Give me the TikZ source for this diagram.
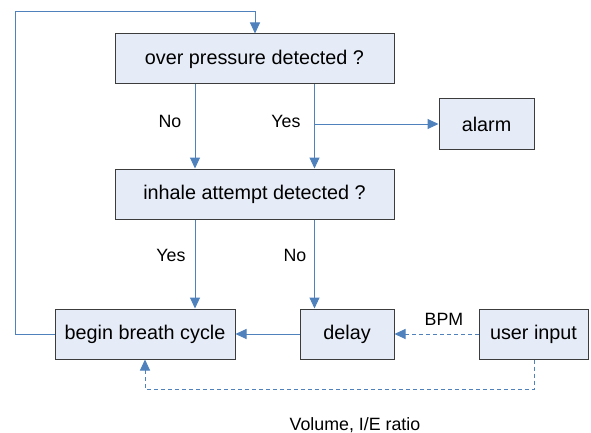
\documentclass[tikz,border=0pt]{standalone}
\usepackage{fontspec}
\setmainfont{Liberation Sans}
\usetikzlibrary{arrows.meta}
\definecolor{boxfill}{HTML}{E6ECF7}
\definecolor{boxline}{HTML}{3C3C3C}
\definecolor{flow}{HTML}{4F81BD}
\begin{document}
\begin{tikzpicture}[x=1pt,y=-1pt,
  box/.style={draw=boxline,fill=boxfill,line width=1pt,inner sep=0pt,font=\fontsize{19.8}{21}\selectfont},
  conn/.style={draw=flow,line width=1pt,-{Triangle[length=11pt,width=10pt]}},
  dconn/.style={conn,dashed,dash pattern=on 4pt off 3pt},
  lbl/.style={font=\fontsize{17.8}{19}\selectfont,inner sep=0pt}]
\useasboundingbox (0,0) rectangle (591,433);
\node[box,minimum width=279pt,minimum height=50pt] (op) at (254.5,59) {over pressure detected ?};
\node[box,minimum width=279pt,minimum height=50pt] (ih) at (254.5,194) {inhale attempt detected ?};
\node[box,minimum width=95pt,minimum height=50pt] (al) at (486.5,124) {alarm};
\node[box,minimum width=180pt,minimum height=50pt] (bb) at (145,334) {begin breath cycle};
\node[box,minimum width=94pt,minimum height=50pt] (dl) at (347,334) {delay};
\node[box,minimum width=109pt,minimum height=50pt] (ui) at (533.5,334) {user input};
\coordinate (tl) at (15,12);
\coordinate (bl) at (15,334);
\coordinate (yj) at (314.5,124);
\coordinate (dr) at (534,389);
\coordinate (dl2) at (145,389);
% No / Yes from over pressure
\draw[conn] (op.south -| 195,0) -- (ih.north -| 195,0);
\draw[conn] (op.south -| 314.5,0) -- (ih.north -| 314.5,0);
\draw[conn] (yj) -- (al.west);
% inhale outcomes
\draw[conn] (ih.south -| 195,0) -- (bb.north -| 195,0);
\draw[conn] (ih.south -| 314.5,0) -- (dl.north -| 314.5,0);
% delay to begin
\draw[conn] (dl.west) -- (bb.east);
% loop back
\draw[conn] (bb.west) -- (bl) -- (tl) -- (tl -| 255,0) -- (op.north -| 255,0);
% user input
\draw[dconn] (ui.west) -- (dl.east);
\draw[dconn] (ui.south -| dr) -- (dr) -- (dl2) -- (bb.south -| dl2);
% labels
\node[lbl] (n1) at (170,121) {No};
\node[lbl] (y1) at (286,121) {Yes};
\node[lbl] (y2) at (171,255) {Yes};
\node[lbl] (n2) at (295,255) {No};
\node[lbl] (bpm) at (444,319) {BPM};
\node[lbl] (vol) at (355,425) {Volume, I/E ratio};
\end{tikzpicture}
\end{document}
